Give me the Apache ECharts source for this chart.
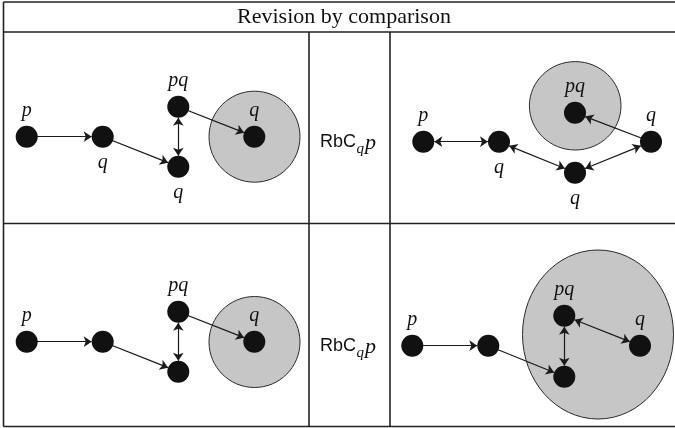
<!DOCTYPE html>
<html><head><meta charset="utf-8">
<script src="https://cdn.jsdelivr.net/npm/echarts@6/dist/echarts.min.js"></script>
<style>html,body{margin:0;padding:0;background:#fff}#c{width:675px;height:428px}</style>
</head><body><div id="c"></div>
<script>
// ---- content ----
const titleText = 'Revision by comparison';
const titleAt = [344, 17.5];
const ruleAtX = [350, 350];
const ruleAtY = [141.7, 345.7];

// nodes (four panels)
const nodeX = [26.7, 102.7, 178.3, 178.3, 254.3,   423.3, 499, 575, 651, 575,   26.7, 102.7, 178.3, 178.3, 254.3,   412.3, 488.3, 564.3, 564.3, 640];
const nodeY = [136.7, 136.7, 106.7, 166.7, 136.7,  141.7, 141.7, 172.7, 141.7, 112.7,  341.7, 341.7, 311.7, 371.7, 341.7,  345.7, 345.7, 315.7, 376.7, 345.7];
const nodeLabels = ['p', 'q', 'pq', 'q', 'q',   'p', 'q', 'q', 'q', 'pq',   'p', '', 'pq', '', 'q',   'p', '', 'pq', '', 'q'];
const labelSide = ['top', 'bottom', 'top', 'bottom', 'top',   'top', 'bottom', 'bottom', 'top', 'top',   'top', 'top', 'top', 'top', 'top',   'top', 'top', 'top', 'top', 'top'];

// arrows
const edgeFrom = [0, 1, 2, 2,   5, 6, 7, 8,   10, 11, 12, 12,   15, 16, 17, 17];
const edgeTo   = [1, 3, 3, 4,   6, 7, 8, 9,   11, 13, 13, 14,   16, 18, 18, 19];
const edgeBoth = [false, false, true, false,   true, true, true, false,   false, false, true, false,   false, false, true, true];

// shaded regions
const regionX  = [254.5, 575.2, 254.5, 598];
const regionY  = [136.7, 105.8, 342.0, 334.5];
const regionRX = [45.5, 45.8, 45.5, 75.5];
const regionRY = [45.5, 44.2, 45.5, 84.5];

// table rules
const ruleX1 = [3.5, 3.5, 3.5, 3.5, 3.5, 309, 390];
const ruleY1 = [2, 32, 223.5, 426.5, 2, 32, 32];
const ruleX2 = [675, 675, 675, 675, 3.5, 309, 390];
const ruleY2 = [2, 32, 223.5, 426.5, 426.5, 426.5, 426.5];

// ---- chart ----
const chart = echarts.init(document.getElementById('c'), null, {renderer: 'canvas'});
const serif = '"Liberation Serif", "Times New Roman", serif';
const sans = '"Liberation Sans", Arial, sans-serif';

const option = {
  animation: false,
  grid: {left: 0, right: 0, top: 0, bottom: 0},
  xAxis: {type: 'value', min: 0, max: 675, show: false},
  yAxis: {type: 'value', min: 0, max: 428, inverse: true, show: false},
  series: [
    {
      type: 'custom', coordinateSystem: 'cartesian2d', z: 1, silent: true,
      encode: {x: 0, y: 1},
      data: regionX.map((x, i) => [x, regionY[i], regionRX[i], regionRY[i]]),
      renderItem: function (params, api) {
        const c = api.coord([api.value(0), api.value(1)]);
        const s = api.size([api.value(2), api.value(3)]);
        return {type: 'ellipse', shape: {cx: c[0], cy: c[1], rx: s[0], ry: s[1]},
                style: {fill: '#c6c6c6', stroke: '#2a2a2a', lineWidth: 1}};
      }
    },
    {
      type: 'custom', coordinateSystem: 'cartesian2d', z: 2, silent: true, clip: false,
      encode: {x: [0, 2], y: [1, 3]},
      data: ruleX1.map((x, i) => [x, ruleY1[i], ruleX2[i], ruleY2[i]]),
      renderItem: function (params, api) {
        const a = api.coord([api.value(0), api.value(1)]);
        const b = api.coord([api.value(2), api.value(3)]);
        return {type: 'line', shape: {x1: a[0], y1: a[1], x2: b[0], y2: b[1]},
                style: {stroke: '#222', lineWidth: 1.6}};
      }
    },
    {
      type: 'custom', coordinateSystem: 'cartesian2d', z: 2, silent: true, clip: false,
      encode: {x: 0, y: 1},
      data: [titleAt],
      renderItem: function (params, api) {
        const c = api.coord([api.value(0), api.value(1)]);
        return {type: 'text', x: c[0], y: c[1],
                style: {text: titleText, font: '22px ' + serif, fill: '#111', align: 'center', verticalAlign: 'middle'}};
      }
    },
    {
      type: 'custom', coordinateSystem: 'cartesian2d', z: 2, silent: true, clip: false,
      encode: {x: 0, y: 1},
      data: ruleAtX.map((x, i) => [x, ruleAtY[i]]),
      renderItem: function (params, api) {
        const c = api.coord([api.value(0), api.value(1)]);
        return {type: 'group', x: c[0], y: c[1], children: [
          {type: 'text', style: {text: 'RbC', x: -30, y: 0, font: '18px ' + sans, fill: '#111', align: 'left', verticalAlign: 'middle'}},
          {type: 'text', style: {text: 'q', x: 6.5, y: 7, font: 'italic 15px ' + serif, fill: '#111', align: 'left', verticalAlign: 'middle'}},
          {type: 'text', style: {text: 'p', x: 15, y: 2, font: 'italic 22px ' + serif, fill: '#111', align: 'left', verticalAlign: 'middle'}}
        ]};
      }
    },
    {
      type: 'graph', coordinateSystem: 'cartesian2d', z: 3, silent: true,
      symbol: 'circle', symbolSize: 22,
      itemStyle: {color: '#111'},
      label: {show: true, fontFamily: serif, fontStyle: 'italic', fontSize: 20, color: '#111', distance: 5},
      emphasis: {disabled: true},
      data: nodeX.map((x, i) => ({
        name: 'n' + i, value: [x, nodeY[i]],
        label: {show: nodeLabels[i] !== '', formatter: nodeLabels[i], position: labelSide[i]}
      })),
      links: edgeFrom.map((s, i) => ({
        source: 'n' + s, target: 'n' + edgeTo[i],
        symbol: edgeBoth[i] ? ['arrow', 'arrow'] : ['none', 'arrow']
      })),
      edgeSymbolSize: 8,
      lineStyle: {color: '#1a1a1a', width: 1.2, opacity: 1, curveness: 0}
    }
  ]
};
chart.setOption(option);
</script>
</body></html>
